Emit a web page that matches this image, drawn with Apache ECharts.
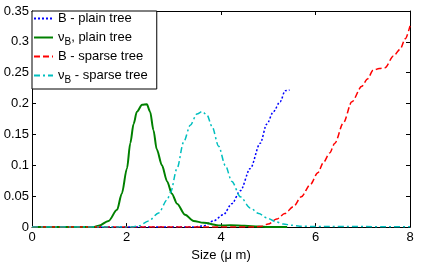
<!DOCTYPE html>
<html>
<head>
<meta charset="utf-8">
<script src="https://cdn.jsdelivr.net/npm/echarts@6/dist/echarts.min.js"></script>
<style>
html,body{margin:0;padding:0;background:#fff;}
#c{width:447px;height:267px;}
</style>
</head>
<body>
<div id="c"></div>
<script>
// Data
var xTicks = [0, 2, 4, 6, 8];
var yTicks = [0, 0.05, 0.1, 0.15, 0.2, 0.25, 0.3, 0.35];

var bPlainX = [0, 3.4, 3.63, 3.84, 4.05, 4.23, 4.41, 4.62, 4.83, 4.97, 5.11, 5.25, 5.36, 5.45];
var bPlainY = [0, 0, 0.002, 0.010, 0.020, 0.038, 0.059, 0.095, 0.136, 0.167, 0.187, 0.203, 0.221, 0.222];

var nuPlainX = [0, 1.3, 1.41, 1.62, 1.80, 1.90, 2.01, 2.08, 2.15, 2.22, 2.33, 2.43, 2.50, 2.57, 2.64, 2.75, 2.86, 2.96, 3.07, 3.24, 3.42, 3.63, 3.98, 4.2, 4.5, 4.8, 5.0, 5.4];
var nuPlainY = [0, 0, 0.002, 0.010, 0.028, 0.054, 0.095, 0.136, 0.167, 0.187, 0.198, 0.199, 0.187, 0.157, 0.126, 0.100, 0.074, 0.054, 0.038, 0.020, 0.010, 0.007, 0.0025, 0.003, 0.002, 0.001, 0, 0];

var bSparseX = [0, 4.7, 4.83, 5.0, 5.18, 5.35, 5.53, 5.7, 5.89, 6.05, 6.17, 6.3, 6.41, 6.59, 6.77, 6.98, 7.1, 7.22, 7.35, 7.47, 7.65, 7.79, 7.9, 8.0];
var bSparseY = [0, 0, 0.001, 0.005, 0.013, 0.022, 0.033, 0.049, 0.069, 0.088, 0.105, 0.120, 0.136, 0.169, 0.203, 0.228, 0.240, 0.254, 0.257, 0.258, 0.277, 0.288, 0.305, 0.326];

var nuSparseX = [0, 2.1, 2.26, 2.47, 2.68, 2.86, 2.93, 3.07, 3.21, 3.35, 3.49, 3.60, 3.70, 3.81, 3.95, 4.09, 4.23, 4.41, 4.62, 4.80, 4.97, 5.15, 5.32, 5.50, 5.67, 6.0, 8.0];
var nuSparseY = [0, 0, 0.002, 0.010, 0.023, 0.044, 0.056, 0.095, 0.138, 0.165, 0.183, 0.187, 0.182, 0.163, 0.131, 0.100, 0.074, 0.049, 0.031, 0.022, 0.015, 0.009, 0.005, 0.003, 0.0015, 0.001, 0.0005];

var seriesNames = ['B - plain tree', 'nuB, plain tree', 'B - sparse tree', 'nuB - sparse tree'];

function pairs(xs, ys) { return xs.map(function (x, i) { return [x, ys[i]]; }); }

var FONT = 'Liberation Sans, Arial, Helvetica, sans-serif';
var FS = 13;

var chart = echarts.init(document.getElementById('c'), null, {renderer: 'canvas'});

function mkSeries(name, xs, ys, color, type, width) {
  return {
    name: name, type: 'line', data: pairs(xs, ys), showSymbol: false, symbol: 'none',
    smooth: 0.3, smoothMonotone: 'x',
    lineStyle: {color: color, width: width, type: type},
    itemStyle: {color: color},
    xAxisIndex: 0, yAxisIndex: 0, z: 3
  };
}

var axisCommon = {
  axisLine: {show: true, onZero: false, lineStyle: {color: '#000', width: 1}},
  axisTick: {show: true, inside: true, length: 4, lineStyle: {color: '#000'}},
  splitLine: {show: false}
};

var option = {
  animation: false,
  backgroundColor: '#fff',
  textStyle: {fontFamily: FONT},
  grid: {left: 32, right: 37, top: 11, bottom: 29, containLabel: false},
  legend: {
    orient: 'vertical', left: 32, top: 11,
    data: seriesNames,
    itemWidth: 19, itemHeight: 14, itemGap: 3,
    padding: [1, 9, 4, 1],
    borderColor: '#000', borderWidth: 1, backgroundColor: '#fff',
    itemStyle: {opacity: 0},
    textStyle: {
      fontFamily: FONT, fontSize: FS, color: '#000',
      rich: {
        n: {fontFamily: FONT, fontSize: FS, color: '#000', lineHeight: 14},
        s: {fontFamily: FONT, fontSize: 10, color: '#000', lineHeight: 14, padding: [9, 0, 0, 0]}
      }
    },
    formatter: function (name) {
      if (name === 'nuB, plain tree') return '{n|\u03BD}{s|B}{n|, plain tree}';
      if (name === 'nuB - sparse tree') return '{n|\u03BD}{s|B}{n| - sparse tree}';
      return '{n|' + name + '}';
    }
  },
  xAxis: [
    Object.assign({
      type: 'value', min: 0, max: 8, interval: 2, position: 'bottom',
      name: 'Size (\u03BC m)', nameLocation: 'middle', nameGap: 20,
      nameTextStyle: {fontFamily: FONT, fontSize: FS, color: '#000'},
      axisLabel: {fontFamily: FONT, fontSize: FS, color: '#000', margin: 4,
        formatter: function (v) { return xTicks.indexOf(v) >= 0 ? String(v) : ''; }}
    }, axisCommon),
    Object.assign({
      type: 'value', min: 0, max: 8, interval: 2, position: 'top',
      axisLabel: {show: false}
    }, axisCommon)
  ],
  yAxis: [
    Object.assign({
      type: 'value', min: 0, max: 0.35, interval: 0.05, position: 'left',
      axisLabel: {fontFamily: FONT, fontSize: FS, color: '#000', margin: 3,
        formatter: function (v) {
          var r = Math.round(v * 100) / 100;
          for (var i = 0; i < yTicks.length; i++) if (Math.abs(yTicks[i] - r) < 1e-9) return String(yTicks[i]);
          return '';
        }}
    }, axisCommon),
    Object.assign({
      type: 'value', min: 0, max: 0.35, interval: 0.05, position: 'right',
      axisLabel: {show: false}
    }, axisCommon)
  ],
  series: [
    mkSeries(seriesNames[0], bPlainX, bPlainY, '#0000FF', [2, 2], 1.5),
    mkSeries(seriesNames[1], nuPlainX, nuPlainY, '#008000', 'solid', 2),
    mkSeries(seriesNames[2], bSparseX, bSparseY, '#FF0000', [6, 3], 1.5),
    mkSeries(seriesNames[3], nuSparseX, nuSparseY, '#00BFBF', [6, 3, 2, 3], 1.5)
  ]
};
chart.setOption(option);
</script>
</body>
</html>
